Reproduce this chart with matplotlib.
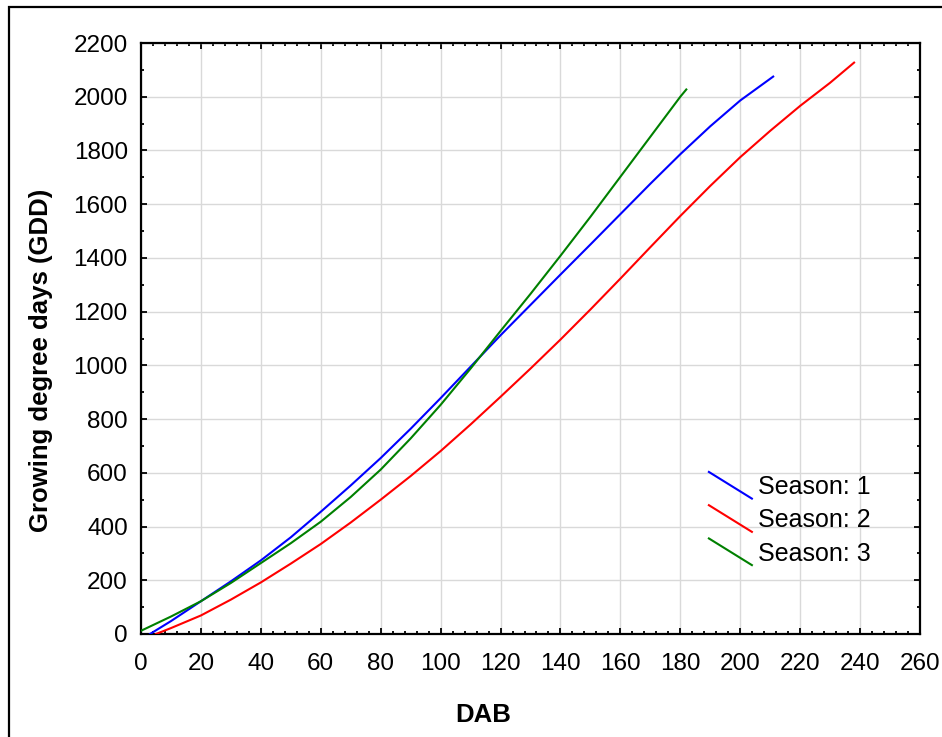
import matplotlib

matplotlib.use("Agg")
import matplotlib.pyplot as plt
from matplotlib.legend_handler import HandlerLine2D
from matplotlib.lines import Line2D
from matplotlib.patches import Rectangle
from matplotlib.ticker import MultipleLocator

plt.rcParams["font.family"] = ["Liberation Sans", "DejaVu Sans"]

# days after budbreak and accumulated GDD for each season
dab_1 = [3, 10, 20, 30, 40, 50, 60, 70, 80, 90, 100, 110, 120, 130, 140, 150, 160, 170, 180, 190, 200, 211]
gdd_1 = [0, 48, 122, 196, 274, 360, 455, 553, 655, 764, 878, 995, 1112, 1225, 1338, 1450, 1563, 1676,
         1786, 1890, 1986, 2075]

dab_2 = [5, 10, 20, 30, 40, 50, 60, 70, 80, 90, 100, 110, 120, 130, 140, 150, 160, 170, 180, 190, 200,
         210, 220, 230, 238]
gdd_2 = [0, 22, 69, 128, 192, 262, 335, 415, 500, 588, 681, 780, 883, 988, 1096, 1208, 1323, 1440, 1556,
         1668, 1775, 1873, 1966, 2052, 2127]

dab_3 = [0, 10, 20, 30, 40, 50, 60, 70, 80, 90, 100, 110, 120, 130, 140, 150, 160, 170, 180, 182]
gdd_3 = [12, 65, 122, 190, 264, 338, 418, 510, 612, 728, 853, 988, 1128, 1266, 1408, 1553, 1702, 1851,
         2000, 2027]

seasons = ["Season: 1", "Season: 2", "Season: 3"]
colors = ["blue", "red", "green"]


class DiagonalHandler(HandlerLine2D):
    # legend key drawn as a short falling diagonal
    def create_artists(self, legend, orig_handle, xdescent, ydescent, width, height, fontsize, trans):
        yc = (height - ydescent) / 2
        h = 9.6
        line = Line2D([-xdescent, -xdescent + width], [yc + h, yc - h])
        self.update_prop(line, orig_handle, legend)
        line.set_transform(trans)
        return [line]


fig = plt.figure(figsize=(9.42, 7.37), dpi=100)
ax = fig.add_axes([141 / 942, 1 - 634 / 737, 779 / 942, 591 / 737])

handles = []
for x, y, c, name in zip([dab_1, dab_2, dab_3], [gdd_1, gdd_2, gdd_3], colors, seasons):
    (ln,) = ax.plot(x, y, color=c, lw=1.5, label=name, zorder=3)
    handles.append(ln)

ax.set_xlim(0, 260)
ax.set_ylim(0, 2200)
ax.xaxis.set_major_locator(MultipleLocator(20))
ax.xaxis.set_minor_locator(MultipleLocator(4))
ax.yaxis.set_major_locator(MultipleLocator(200))
ax.yaxis.set_minor_locator(MultipleLocator(100))
ax.grid(True, which="major", color="#d9d9d9", lw=1.0)
ax.set_axisbelow(True)

ax.tick_params(which="both", direction="in", top=True, right=True, colors="black", width=1.3)
ax.tick_params(which="major", length=4.5, labelsize=17.5)
ax.tick_params(which="minor", length=2.5)
ax.tick_params(axis="x", which="major", pad=14)
ax.tick_params(axis="y", which="major", pad=9.5)
for s in ax.spines.values():
    s.set_linewidth(1.6)

fig.text(483 / 942, 1 - 715 / 737, "DAB", fontsize=18.5, fontweight="bold", ha="center", va="center")
fig.text(41 / 942, 1 - 360 / 737, "Growing degree days (GDD)", fontsize=18.5, fontweight="bold",
         rotation=90, ha="center", va="center")

ax.legend(handles=handles, loc="upper left", bbox_to_anchor=(0.729, 0.269), frameon=False,
          fontsize=18, borderpad=0, borderaxespad=0, handlelength=1.72, handletextpad=0.24,
          labelspacing=0.37, handler_map={Line2D: DiagonalHandler()})

# outer border of the figure panel
fig.patches.append(Rectangle((8.5 / 942, -0.1), 1.2, 1 - 7 / 737 + 0.1, transform=fig.transFigure,
                             fill=False, edgecolor="black", lw=1.6))

fig.savefig("out.png", dpi=100)
